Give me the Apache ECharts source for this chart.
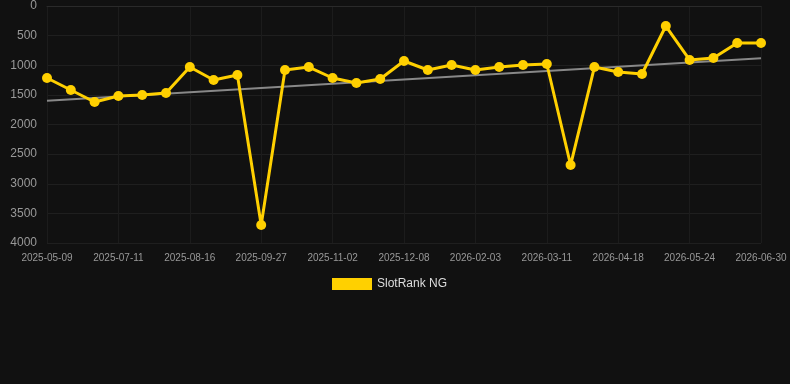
<!DOCTYPE html>
<html><head><meta charset="utf-8">
<script src="https://cdn.jsdelivr.net/npm/echarts@6/dist/echarts.min.js"></script>
<style>html,body{margin:0;padding:0;background:#111111;}#c{width:790px;height:384px;}</style>
</head><body><div id="c"></div>
<script>
const categories = ['2025-05-09','2025-05-30','2025-06-20','2025-07-11','2025-07-23','2025-08-04','2025-08-16','2025-08-30','2025-09-13','2025-09-27','2025-10-09','2025-10-21','2025-11-02','2025-11-14','2025-11-26','2025-12-08','2025-12-27','2026-01-15','2026-02-03','2026-02-15','2026-02-27','2026-03-11','2026-03-24','2026-04-06','2026-04-18','2026-04-30','2026-05-12','2026-05-24','2026-06-05','2026-06-17','2026-06-30'];
const rankValues = [1215,1418,1620,1519,1502,1468,1030,1249,1165,3696,1080,1030,1215,1300,1232,928,1080,996,1080,1030,996,979,2684,1030,1114,1148,338,911,878,624,624];
const trendValues = [1600,null,null,null,null,null,null,null,null,null,null,null,null,null,null,null,null,null,null,null,null,null,null,null,null,null,null,null,null,null,880];
const yTicks = {min:0, max:4000, interval:500};
const chart = echarts.init(document.getElementById('c'));
chart.setOption({
  backgroundColor:'#111111',
  animation:false,
  grid:{left:47,right:29,top:6,bottom:141,containLabel:false},
  legend:{top:278,left:332,padding:0,itemWidth:40,itemHeight:12,itemGap:10,
    textStyle:{color:'#dddddd',fontSize:12,fontFamily:'Arial, Liberation Sans, sans-serif'},
    data:[{name:'SlotRank NG',icon:'rect'}]},
  xAxis:{type:'category',data:categories,boundaryGap:false,
    axisLine:{show:true,lineStyle:{color:'#2a2a2a'}},
    axisTick:{show:false},
    axisLabel:{interval:2,color:'#999999',fontSize:10,margin:10,fontFamily:'Arial, Liberation Sans, sans-serif'},
    splitLine:{show:true,interval:2,lineStyle:{color:'#1c1c1c'}}},
  yAxis:{type:'value',inverse:true,min:yTicks.min,max:yTicks.max,interval:yTicks.interval,
    axisLine:{show:false},axisTick:{show:false},
    axisLabel:{color:'#999999',fontSize:12,margin:10,formatter:function(v){return String(v);},fontFamily:'Arial, Liberation Sans, sans-serif'},
    splitLine:{show:true,lineStyle:{color:'#1f1f1f'}}},
  series:[
    {name:'Trend',type:'line',data:trendValues,connectNulls:true,symbol:'none',
      lineStyle:{color:'#888888',width:2},itemStyle:{color:'#888888'},z:1,silent:true},
    {name:'SlotRank NG',type:'line',data:rankValues,symbol:'circle',symbolSize:10,
      lineStyle:{color:'#FFD000',width:3},itemStyle:{color:'#FFD000'},z:2}
  ]
});
</script></body></html>
